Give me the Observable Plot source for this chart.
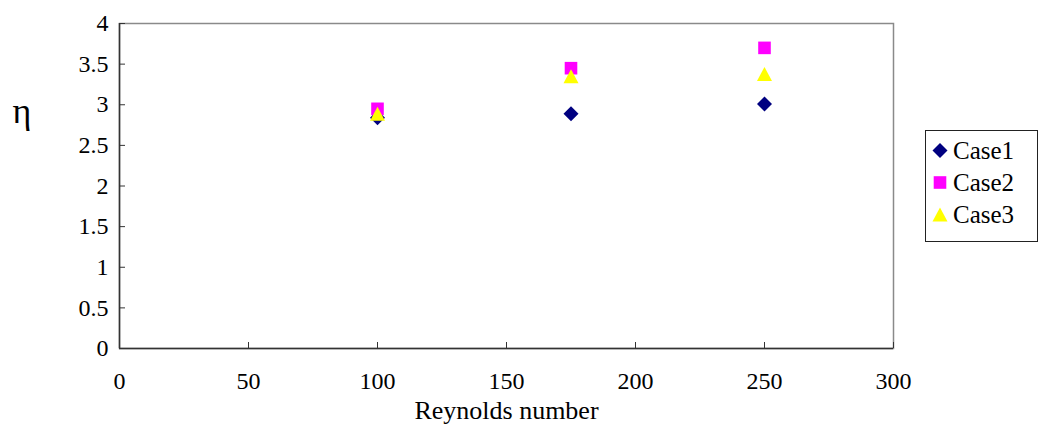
<!DOCTYPE html>
<html>
<head>
<meta charset="utf-8">
<script src="https://cdn.jsdelivr.net/npm/d3@7"></script>
<script src="https://cdn.jsdelivr.net/npm/@observablehq/plot@0.6"></script>
<style>
  body { margin: 0; background: #fff; }
  #chart { position: relative; width: 1046px; height: 430px; }
  #legend {
    position: absolute; left: 925px; top: 130px;
    width: 111px; height: 110px;
    border: 1.5px solid #222; background: #fff;
  }
  #legend svg, #chart > svg { display: block; }
</style>
</head>
<body>
<div id="chart"><div id="legend"></div></div>
<script>
// Efficiency η against Reynolds number for three cases
const reynolds = [100, 175, 250];
const case1 = [2.84, 2.89, 3.01];
const case2 = [2.95, 3.45, 3.70];
const case3 = [2.89, 3.35, 3.38];

const seriesNames = ["Case1", "Case2", "Case3"];
const seriesColors = ["#000080", "#ff00ff", "#ffff00"];

const xTicks = [0, 50, 100, 150, 200, 250, 300];
const xTickLabels = ["0", "50", "100", "150", "200", "250", "300"];
const yTicks = [0, 0.5, 1, 1.5, 2, 2.5, 3, 3.5, 4];
const yTickLabels = ["0", "0.5", "1", "1.5", "2", "2.5", "3", "3.5", "4"];

const xTitle = "Reynolds number";
const yTitle = "η";

// Marker shapes centred on their bounding box
const unit = size => Math.sqrt(size / Math.PI);
const diamondSym = { draw(ctx, size) { const h = unit(size) * 1.07;
  ctx.moveTo(0, -h); ctx.lineTo(h, 0); ctx.lineTo(0, h); ctx.lineTo(-h, 0); ctx.closePath(); } };
const squareSym = { draw(ctx, size) { const h = unit(size) * 0.9;
  ctx.rect(-h, -h, 2 * h, 2 * h); } };
const triangleSym = { draw(ctx, size) { const a = unit(size); const w = a * 1.07, h = a * 1.0;
  ctx.moveTo(0, -h); ctx.lineTo(w, h); ctx.lineTo(-w, h); ctx.closePath(); } };
const seriesSymbols = [diamondSym, squareSym, triangleSym];

const rows = [case1, case2, case3].flatMap((vals, s) =>
  vals.map((v, i) => ({ series: seriesNames[s], re: reynolds[i], eta: v })));

const fontFamily = "'Liberation Serif', 'Times New Roman', serif";
const symbolScale = { domain: seriesNames, range: seriesSymbols };
const colorScale = { domain: seriesNames, range: seriesColors };

const chart = Plot.plot({
  width: 1046,
  height: 430,
  marginLeft: 119,
  marginRight: 153,
  marginTop: 23,
  marginBottom: 82,
  style: { fontFamily, fontSize: "24px", color: "#000", background: "#fff", overflow: "visible" },
  x: { domain: [0, 300] },
  y: { domain: [0, 4] },
  symbol: symbolScale,
  color: colorScale,
  marks: [
    Plot.frame({ stroke: "#8a8a8a", strokeWidth: 1.5 }),
    Plot.ruleX([0], { stroke: "#333", strokeWidth: 1.5 }),
    Plot.ruleY([0], { stroke: "#333", strokeWidth: 1.5 }),
    // inward tick marks
    Plot.axisY({ ticks: yTicks, tickSize: 6, dx: 6, tickFormat: () => "", label: null, stroke: "#333" }),
    Plot.axisX({ ticks: xTicks, tickSize: 6, dy: -6, tickFormat: () => "", label: null, stroke: "#333" }),
    // tick labels
    Plot.axisY({ ticks: yTicks, tickSize: 0, tickPadding: 11, label: null,
      tickFormat: d => yTickLabels[yTicks.indexOf(d)] }),
    Plot.axisX({ ticks: xTicks, tickSize: 0, tickPadding: 23, label: null,
      tickFormat: d => xTickLabels[xTicks.indexOf(d)] }),
    // axis titles
    Plot.text([xTitle], { frameAnchor: "bottom", dy: 62, fontSize: 26, lineAnchor: "middle" }),
    Plot.text([yTitle], { frameAnchor: "top-left", dx: -107, dy: 88, fontSize: 36, lineAnchor: "middle" }),
    // data points
    Plot.dot(rows, { x: "re", y: "eta", symbol: "series", fill: "series", stroke: "none", r: 7 })
  ]
});
document.getElementById("chart").prepend(chart);

const legend = Plot.plot({
  width: 111,
  height: 110,
  margin: 0,
  style: { fontFamily, fontSize: "25px", color: "#000", background: "#fff" },
  y: { type: "point", domain: seriesNames, range: [18.5, 83.5], padding: 0, axis: null },
  symbol: symbolScale,
  color: colorScale,
  marks: [
    Plot.dot(seriesNames, { y: d => d, frameAnchor: "left", dx: 13.5, symbol: d => d, fill: d => d, stroke: "none", r: 7 }),
    Plot.text(seriesNames, { y: d => d, frameAnchor: "left", dx: 26.5, textAnchor: "start", lineAnchor: "middle" })
  ]
});
document.getElementById("legend").append(legend);
</script>
</body>
</html>
